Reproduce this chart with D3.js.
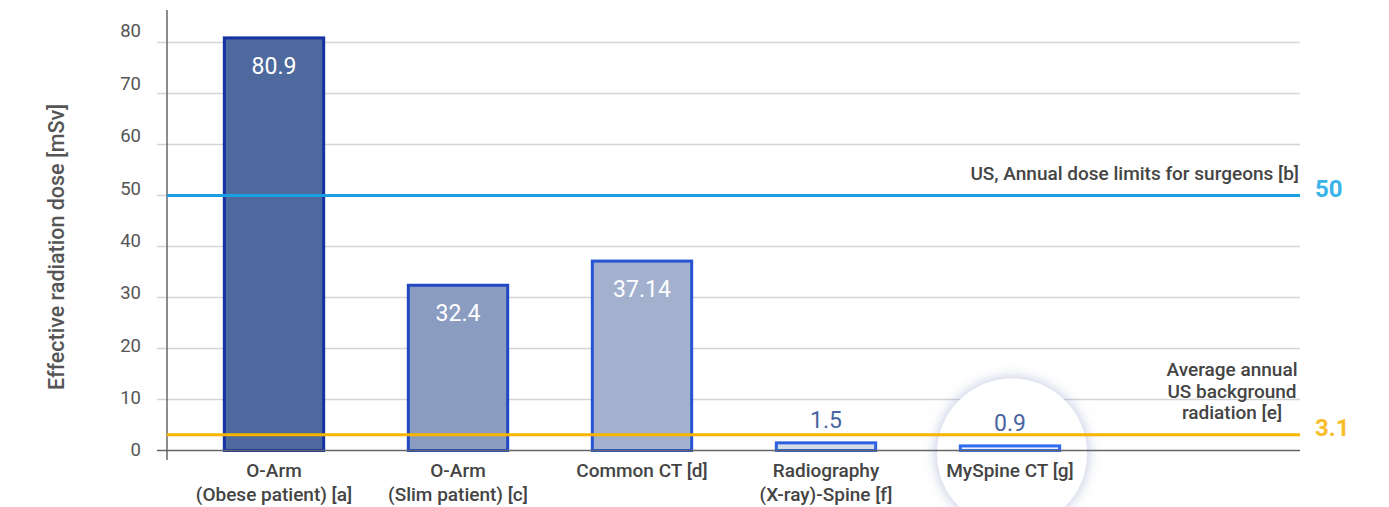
<!DOCTYPE html>
<html lang="en">
    <head>
        <meta charset="utf-8">
        <title>Effective radiation dose</title>
        <script type="text/javascript" src="https://d3js.org/d3.v7.min.js"></script>
        <style>
            body { margin: 0; background: white; }
            #chart text { font-family: Roboto, "Noto Sans", sans-serif; }
            .tick-label { fill: #555; font-size: 18.5px; font-weight: 400; }
            .cat-label { fill: #444; font-size: 19px; font-weight: 500; }
            .grid line { stroke: #d4d4d4; stroke-width: 1.5; }
        </style>
    </head>
    <body>
        <svg id="chart" width="1389" height="507"></svg>
    </body>
    <script>
        // data
        let categories = [
            ["O-Arm", "(Obese patient) [a]"],
            ["O-Arm", "(Slim patient) [c]"],
            ["Common CT [d]"],
            ["Radiography", "(X-ray)-Spine [f]"],
            ["MySpine CT [g]"]
        ];
        let doses = [80.9, 32.4, 37.14, 1.5, 0.9];
        let valueLabels = ["80.9", "32.4", "37.14", "1.5", "0.9"];
        let fills = ["#4d699e", "#8a9cc0", "#a3b1cf", "#d3dae8", "#eef1f6"];
        let strokes = ["#1631a0", "#2148c2", "#2654d4", "#2f60e0", "#2f6bf0"];
        let yTicks = [0, 10, 20, 30, 40, 50, 60, 70, 80];
        let refLines = [
            {value: 50, label: ["US, Annual dose limits for surgeons [b]"], tag: "50", color: "#1aa0e2", tagColor: "#3ab4e8"},
            {value: 3.1, label: ["Average annual", "US background", "radiation [e]"], tag: "3.1", color: "#f7b500", tagColor: "#f8bd2a"}
        ];
        let highlightIndex = 4;

        let svg = d3.select("#chart");
        let left = 167, right = 1300;

        let x = d3.scaleBand()
            .domain(d3.range(categories.length))
            .range([182, 1102])
            .paddingInner(0.46)
            .paddingOuter(0.23);

        let y = d3.scaleLinear().domain([0, 80]).range([450.5, 42.5]);
        // tick labels sit slightly above their gridlines
        let yLabel = d3.scaleLinear().domain([0, 80]).range([450, 31]);

        // shadow for the spotlight circle
        let defs = svg.append("defs");
        let filter = defs.append("filter").attr("id", "glow")
            .attr("x", "-30%").attr("y", "-30%").attr("width", "160%").attr("height", "160%");
        filter.append("feDropShadow")
            .attr("dx", 0).attr("dy", 0)
            .attr("stdDeviation", 7)
            .attr("flood-color", "#7f8fbf")
            .attr("flood-opacity", 0.55);

        // gridlines
        svg.append("g").attr("class", "grid")
            .selectAll("line")
            .data(yTicks.filter(d => d > 0))
            .enter()
            .append("line")
            .attr("x1", 157).attr("x2", right)
            .attr("y1", d => y(d)).attr("y2", d => y(d));

        svg.append("g")
            .selectAll("text")
            .data(yTicks)
            .enter()
            .append("text")
            .attr("class", "tick-label")
            .attr("x", 141)
            .attr("y", d => yLabel(d))
            .attr("dy", "0.35em")
            .attr("text-anchor", "end")
            .text(d => d);

        // spotlight circle behind highlighted bar
        svg.append("circle")
            .attr("cx", x(highlightIndex) + x.bandwidth() / 2 + 2)
            .attr("cy", y(0) + 3)
            .attr("r", 75)
            .attr("fill", "white")
            .attr("filter", "url(#glow)");

        // y axis title
        svg.append("text")
            .attr("transform", "translate(56," + 247 + ") rotate(-90)")
            .attr("text-anchor", "middle")
            .attr("dy", "0.35em")
            .attr("fill", "#555")
            .attr("font-size", "21.5px")
            .attr("font-weight", 500)
            .text("Effective radiation dose [mSv]");

        // bars
        let bars = svg.append("g");
        bars.selectAll("rect")
            .data(doses)
            .enter()
            .append("rect")
            .attr("x", (d, i) => x(i))
            .attr("width", x.bandwidth())
            .attr("y", d => y(d))
            .attr("height", d => y(0) - y(d))
            .attr("fill", (d, i) => fills[i])
            .attr("stroke", (d, i) => strokes[i])
            .attr("stroke-width", 3);

        // value labels
        bars.selectAll("text")
            .data(doses)
            .enter()
            .append("text")
            .attr("x", (d, i) => x(i) + x.bandwidth() / 2)
            .attr("y", d => d > 10 ? y(d) + 28 : y(d) - 23)
            .attr("dy", "0.35em")
            .attr("text-anchor", "middle")
            .attr("font-size", "23px")
            .attr("font-weight", 400)
            .attr("fill", d => d > 10 ? "white" : "#4a64a0")
            .text((d, i) => valueLabels[i]);

        // axes lines
        svg.append("line")
            .attr("x1", 157).attr("x2", right)
            .attr("y1", y(0)).attr("y2", y(0))
            .attr("stroke", "#666").attr("stroke-width", 1.5);
        svg.append("line")
            .attr("x1", left).attr("x2", left)
            .attr("y1", 10).attr("y2", 460)
            .attr("stroke", "#666").attr("stroke-width", 1.5);

        // reference lines
        let refs = svg.append("g")
            .selectAll("g")
            .data(refLines)
            .enter()
            .append("g");

        refs.append("line")
            .attr("x1", left).attr("x2", right)
            .attr("y1", d => y(d.value)).attr("y2", d => y(d.value))
            .attr("stroke", d => d.color)
            .attr("stroke-width", 3);

        refs.append("text")
            .attr("x", 1315)
            .attr("y", d => y(d.value) - 7)
            .attr("dy", "0.35em")
            .attr("font-size", "24px")
            .attr("font-weight", 700)
            .attr("fill", d => d.tagColor)
            .text(d => d.tag);

        refs.each(function(d) {
            let g = d3.select(this);
            let n = d.label.length;
            let multi = n > 1;
            g.selectAll("text.reflabel")
                .data(d.label)
                .enter()
                .append("text")
                .attr("class", "reflabel")
                .attr("x", multi ? 1232 : 1299)
                .attr("y", (t, i) => y(d.value) - 22 - (n - 1 - i) * 21.5)
                .attr("dy", "0.35em")
                .attr("text-anchor", multi ? "middle" : "end")
                .attr("fill", "#444")
                .attr("font-size", "19px")
                .attr("font-weight", 500)
                .text(t => t);
        });

        // category labels
        svg.append("g")
            .selectAll("text")
            .data(categories)
            .enter()
            .append("text")
            .attr("class", "cat-label")
            .attr("x", (d, i) => x(i) + x.bandwidth() / 2)
            .attr("y", 470)
            .attr("text-anchor", "middle")
            .each(function(lines) {
                d3.select(this).selectAll("tspan")
                    .data(lines)
                    .enter()
                    .append("tspan")
                    .attr("x", d3.select(this).attr("x"))
                    .attr("dy", (t, i) => i === 0 ? "0.35em" : "24px")
                    .text(t => t);
            });
    </script>
</html>
